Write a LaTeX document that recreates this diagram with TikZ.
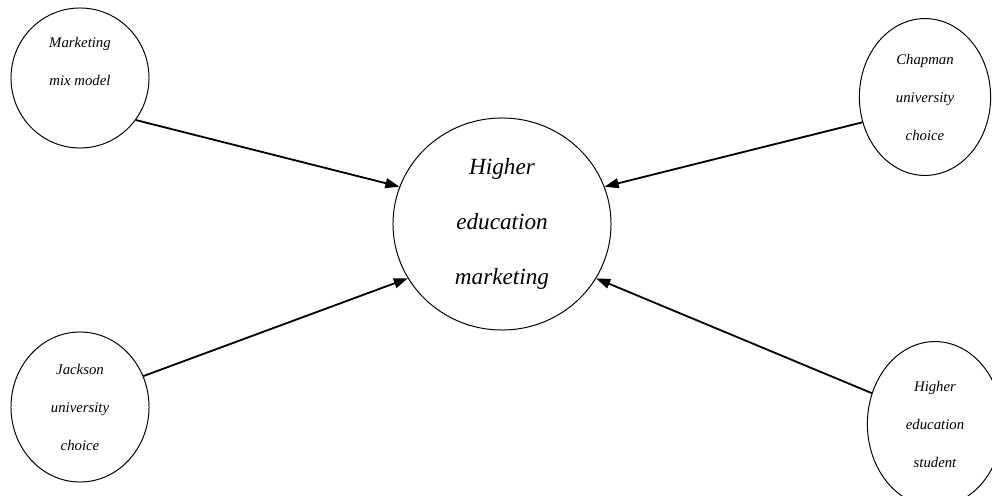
\documentclass[tikz,border=0pt]{standalone}
\usepackage{fontspec}
\setmainfont{Liberation Serif}
\usetikzlibrary{arrows.meta, shapes.geometric}

\begin{document}
\begin{tikzpicture}[
  x=0.025cm, y=0.025cm,
  bub/.style={draw, ellipse, line width=0.7pt, inner sep=0pt, align=center, font=\fontsize{10.5}{27}\selectfont\itshape},
  core/.style={draw, ellipse, line width=0.7pt, inner sep=0pt, minimum width=5.45cm, minimum height=5.3cm, align=center, font=\fontsize{16.5}{39}\selectfont\itshape},
  arr/.style={-{Triangle[length=10pt, width=7pt]}, line width=1.3pt}
]
\useasboundingbox (0,0) rectangle (992,495);
% outer factors
\node[bub, minimum width=3.45cm, minimum height=3.5cm] (mix) at (80,417) {Marketing\\mix model\\[-4pt]\mbox{}};
\node[bub, minimum width=3.45cm, minimum height=3.75cm] (jackson) at (80,88) {Jackson\\university\\choice};
\node[bub, minimum width=3.28cm, minimum height=3.92cm] (chapman) at (925,398) {Chapman\\university\\choice};
\node[bub, minimum width=3.38cm, minimum height=4.12cm] (student) at (935,71) {Higher\\education\\student};
% centre
\node[core] (hem) at (502,271) {Higher\\education\\marketing};

\draw[arr] (mix.-37) -- (hem.160);
\draw[arr] (jackson.26) -- (hem.210);
\draw[arr] (chapman.202) -- (hem.20);
\draw[arr] (student.154) -- (hem.-30);
\end{tikzpicture}
\end{document}
